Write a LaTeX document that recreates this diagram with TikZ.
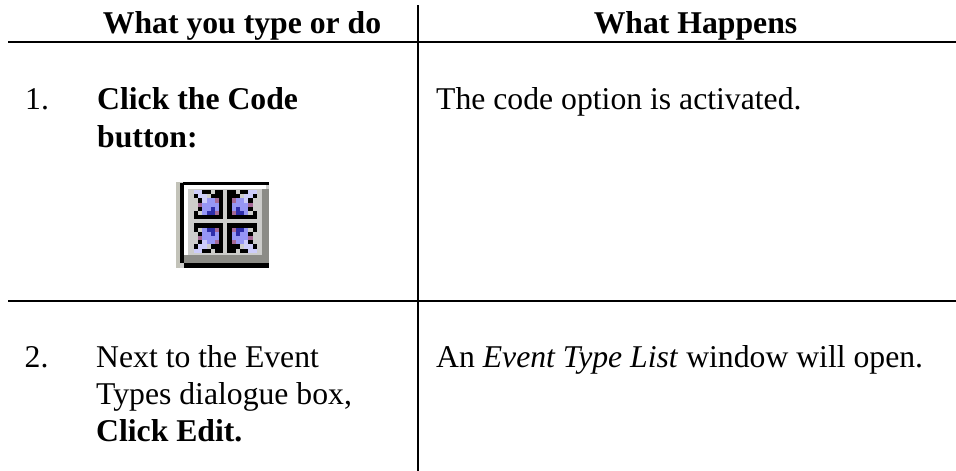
\documentclass[tikz,border=0pt]{standalone}
\usepackage{fontspec}
\setmainfont{Liberation Serif}
\definecolor{icgray}{RGB}{205,205,203}
\definecolor{icleft}{RGB}{195,195,185}
\definecolor{icdark}{RGB}{140,140,135}
\colorlet{icK}{black}
\colorlet{icG}{icgray}
\definecolor{icB}{RGB}{150,150,245}
\definecolor{icN}{RGB}{45,45,170}
\definecolor{icP}{RGB}{205,205,250}
\definecolor{icM}{RGB}{165,105,150}
\tikzset{
 txt/.style={anchor=base west,inner sep=0pt,font=\fontsize{31.7}{38}\selectfont},
 hd/.style={anchor=base,inner sep=0pt,font=\fontsize{31.7}{38}\selectfont\bfseries},
 rule/.style={line width=2pt,black}
}
\begin{document}
\begin{tikzpicture}[x=1pt,y=-1pt]
\useasboundingbox (0,0) rectangle (956,471);
\coordinate (hl) at (8,42); \coordinate (hr) at (956,42);
\coordinate (gl) at (8,301); \coordinate (gr) at (956,301);
\coordinate (vt) at (417.7,5); \coordinate (vb) at (417.7,471);
\draw[rule] (hl) -- (hr); \draw[rule] (gl) -- (gr); \draw[rule] (vt) -- (vb);
\node[hd] (h1) at (242,34) {What you type or do};
\node[hd] (h2) at (695.5,34) {What Happens};
\node[txt] (n1) at (25,109) {1.};
\node[txt] (a1) at (97,109) {\textbf{Click the Code}};
\node[txt] (a1b) at (97,147) {\textbf{button:}};
\node[txt] (r1) at (436,109) {The code option is activated.};
\node[txt] (n2) at (24.5,367) {2.};
\node[txt] (a2) at (96,367) {Next to the Event};
\node[txt] (a2b) at (96,404) {Types dialogue box,};
\node[txt] (a2c) at (96,441) {\textbf{Click Edit.}};
\node[txt] (r2) at (436,367) {An \textit{Event Type List} window will open.};
% icon frame
\fill[icleft] (176,182) rectangle (180,268);
\fill[icgray] (180,182) rectangle (269,268);
\fill[black] (183,182) rectangle (269,185);
\fill[black] (180,183) rectangle (184,263);
\fill[white] (184,185) rectangle (266,189);
\fill[white] (184,185) rectangle (188,255);
\fill[icdark] (262,189) rectangle (269,263);
\fill[icdark] (184,255) rectangle (269,263);
\fill[black] (184,263) rectangle (269,268);
% icon quadrants, one cell pattern mirrored four times
\foreach \sx in {1,-1}{\foreach \sy in {1,-1}{
 \begin{scope}[shift={(225.3,221.3)},xscale=\sx,yscale=\sy]
  \foreach \row [count=\j from 0] in {
    {K,K,K,K,K,K,K},
    {K,M,N,N,B,G,K},
    {K,B,N,B,B,K,G},
    {K,B,B,B,B,M,G},
    {K,M,B,B,P,K,G},
    {K,K,K,G,P,P,K},
    {K,K,G,K,K,P,P}}{
   \foreach \c [count=\i from 0] in \row {
    \fill[ic\c] ({2+4.2*\i},{2+4.2*\j}) rectangle ({2+4.2*\i+4.3},{2+4.2*\j+4.3});
   }}
 \end{scope}}}
\end{tikzpicture}
\end{document}
